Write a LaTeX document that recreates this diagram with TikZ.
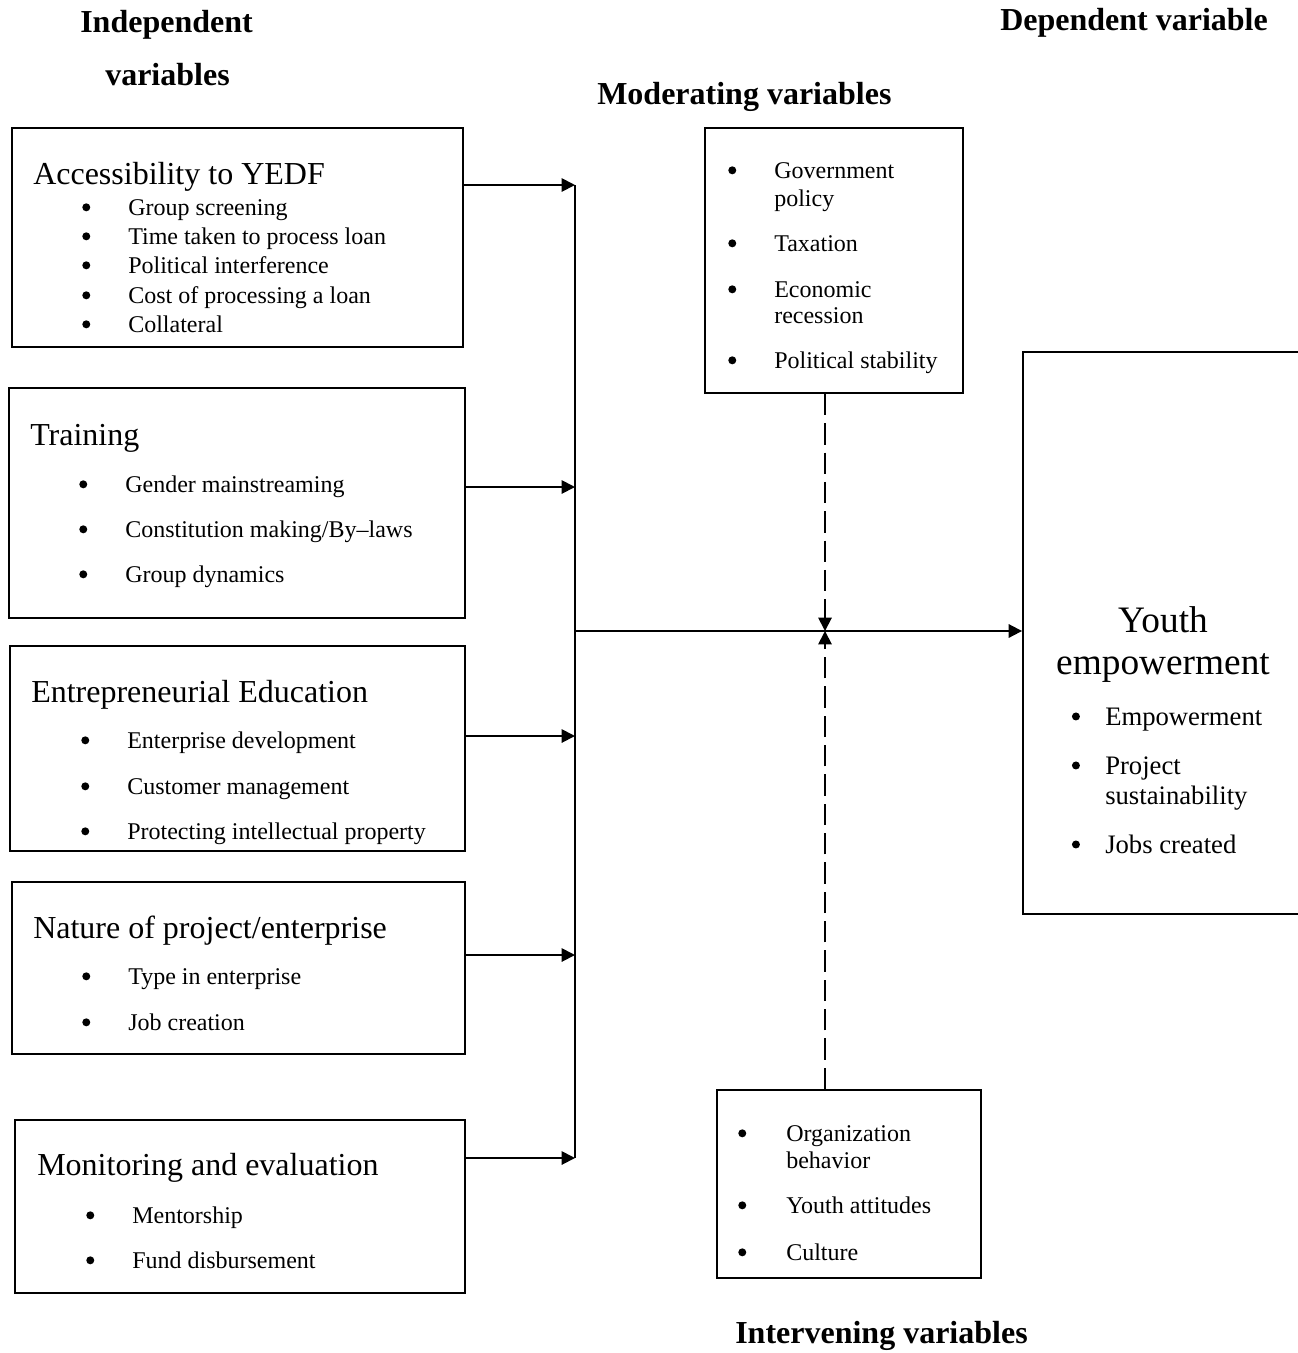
\documentclass[tikz,border=0pt]{standalone}
\usepackage{fontspec}
\setmainfont{Liberation Serif}
\usepackage{tikz}
\usetikzlibrary{arrows.meta,positioning,fit}

\newcommand{\bdot}{\tikz[baseline=-0.32em]\fill (0,0) circle (3pt);}
\newcommand{\bul}[1][28.5pt]{\llap{\bdot\hspace{#1}}}

\begin{document}
\begin{tikzpicture}[
  x=0.75pt, y=-0.75pt,
  box/.style={draw, line width=1.4pt, inner sep=0pt},
  ttl/.style={anchor=base west, inner sep=0pt, font=\fontsize{24}{28}\selectfont},
  itm/.style={anchor=base west, inner sep=0pt, font=\fontsize{18}{22}\selectfont},
  hdr/.style={anchor=base west, inner sep=0pt, font=\bfseries\fontsize{24}{28}\selectfont},
  arr/.style={-{Triangle[length=10pt,width=10pt]}, line width=1.4pt},
  darr/.style={arr, dash pattern=on 16pt off 6pt}
]
\useasboundingbox (0,0) rectangle (1297,1353);

% headings
\node[hdr] (hind)  at (80,32)    {Independent};
\node[hdr] (hind2) at (105,85)   {variables};
\node[hdr] (hmod)  at (597,104)  {Moderating variables};
\node[hdr] (hdep)  at (1000,30)  {Dependent variable};
\node[hdr] (hint)  at (735,1343) {Intervening variables};

% independent variables
\node[box, fit={(12,128) (463,347)}] (acc) {};
\node[ttl] (acct) at (33,184) {Accessibility to YEDF};
\node[itm] (acc1) at (128,215) {\bul Group screening};
\node[itm] (acc2) at (128,244) {\bul Time taken to process loan};
\node[itm] (acc3) at (128,273) {\bul Political interference};
\node[itm] (acc4) at (128,303) {\bul Cost of processing a loan};
\node[itm] (acc5) at (128,332) {\bul Collateral};

\node[box, fit={(9,388) (465,618)}] (trn) {};
\node[ttl] (trnt) at (30,445) {Training};
\node[itm] (trn1) at (125,492) {\bul Gender mainstreaming};
\node[itm] (trn2) at (125,537) {\bul Constitution making/By--laws};
\node[itm] (trn3) at (125,582) {\bul Group dynamics};

\node[box, fit={(10,646) (465,851)}] (edu) {};
\node[ttl] (edut) at (31,702) {Entrepreneurial Education};
\node[itm] (edu1) at (127,748) {\bul Enterprise development};
\node[itm] (edu2) at (127,794) {\bul Customer management};
\node[itm] (edu3) at (127,839) {\bul Protecting intellectual property};

\node[box, fit={(12,882) (465,1054)}] (nat) {};
\node[ttl] (natt) at (33,938) {Nature of project/enterprise};
\node[itm] (nat1) at (128,984)  {\bul Type in enterprise};
\node[itm] (nat2) at (128,1030) {\bul Job creation};

\node[box, fit={(15,1120) (465,1293)}] (mon) {};
\node[ttl] (mont) at (37,1175) {Monitoring and evaluation};
\node[itm] (mon1) at (132,1223) {\bul Mentorship};
\node[itm] (mon2) at (132,1268) {\bul Fund disbursement};

% moderating variables
\node[box, fit={(705,128) (963,393)}] (mod) {};
\node[itm] (mod1)  at (774,178) {\bul Government};
\node[itm] (mod1b) at (774,206) {policy};
\node[itm] (mod2)  at (774,251) {\bul Taxation};
\node[itm] (mod3)  at (774,297) {\bul Economic};
\node[itm] (mod3b) at (774,323) {recession};
\node[itm] (mod4)  at (774,368) {\bul Political stability};

% intervening variables
\node[box, fit={(717,1090) (981,1278)}] (intv) {};
\node[itm] (int1)  at (786,1141) {\bul[30pt]Organization};
\node[itm] (int1b) at (786,1168) {behavior};
\node[itm] (int2)  at (786,1213) {\bul[30pt]Youth attitudes};
\node[itm] (int3)  at (786,1260) {\bul[30pt]Culture};

% dependent variable
\node[box, fit={(1023,352) (1310,914)}] (yth) {};
\node[anchor=base, inner sep=0pt, font=\fontsize{28}{32}\selectfont] (ytht) at (1163,632) {Youth};
\node[anchor=base, inner sep=0pt, font=\fontsize{28}{32}\selectfont] (ytht2) at (1163,674) {empowerment};
\node[itm, font=\fontsize{20}{24}\selectfont] (yth1)  at (1105,725) {\bul[19pt]Empowerment};
\node[itm, font=\fontsize{20}{24}\selectfont] (yth2)  at (1105,774) {\bul[19pt]Project};
\node[itm, font=\fontsize{20}{24}\selectfont] (yth2b) at (1105,804) {sustainability};
\node[itm, font=\fontsize{20}{24}\selectfont] (yth3)  at (1105,853) {\bul[19pt]Jobs created};

% connectors
\coordinate (j1) at (575,185);
\coordinate (j2) at (575,487);
\coordinate (j3) at (575,736);
\coordinate (j4) at (575,955);
\coordinate (j5) at (575,1158);
\coordinate (mid) at (575,631);
\coordinate (cross) at (825,631);

\draw[arr] (acc.east |- j1) -- (j1);
\draw[arr] (trn.east |- j2) -- (j2);
\draw[arr] (edu.east |- j3) -- (j3);
\draw[arr] (nat.east |- j4) -- (j4);
\draw[arr] (mon.east |- j5) -- (j5);
\draw[line width=1.4pt] (j1) -- (j5);
\draw[arr] (mid) -- (yth.west |- mid);
\draw[darr] (cross |- mod.south) -- (cross);
\draw[darr] (cross |- intv.north) -- (cross);
\end{tikzpicture}
\end{document}
